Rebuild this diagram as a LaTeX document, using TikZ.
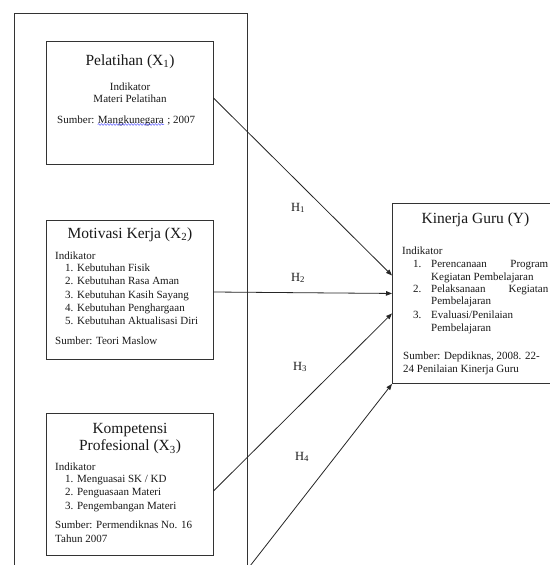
\documentclass[tikz,border=0pt]{standalone}
\usepackage{fontspec}
\setmainfont{Liberation Serif}
\usetikzlibrary{arrows.meta,decorations.pathmorphing}
\begin{document}
\begin{tikzpicture}[x=1pt,y=-1pt,
  boxst/.style={draw=black!80, line width=0.9pt, inner sep=0, fill=none},
  txt/.style={inner sep=0, text height=8pt, text depth=2.5pt, font=\fontsize{11}{13}\selectfont, text=black!90},
  ttl/.style={inner sep=0, font=\fontsize{15.5}{17}\selectfont, text=black!90},
  hl/.style={inner sep=0, font=\fontsize{12.5}{14}\selectfont, text=black!90},
  conn/.style={draw=black!85, line width=0.8pt, -{Triangle[length=6pt,width=4.5pt]}}]
\useasboundingbox (0,0) rectangle (549,565);
\fill[white] (0,0) rectangle (549,565);
% outer frame
\node[boxst, anchor=north west, minimum width=233, minimum height=570] (outer) at (14,13) {};
% boxes
\node[boxst, minimum width=167, minimum height=123] (X1) at (129.5,102.5) {};
\node[boxst, minimum width=167, minimum height=139] (X2) at (129.5,289.5) {};
\node[boxst, minimum width=167, minimum height=142] (X3) at (129.5,484) {};
\node[boxst, anchor=north west, minimum width=170, minimum height=180] (Y) at (392,203) {};
% X1 text
\node[ttl] (x1t) at (130,62) {Pelatihan (X\textsubscript{1})};
\node[txt] (x1a) at (130,88) {Indikator};
\node[txt] (x1b) at (130,100) {Materi Pelatihan};
\node[txt, anchor=base west] (x1c) at (57,123) {Sumber:};
\node[txt, anchor=base west] (x1d) at ([xshift=3pt]x1c.base east) {Mangkunegara};
\node[txt, anchor=base west] (x1e) at ([xshift=3pt]x1d.base east) {; 2007};
\draw[blue!70, line width=0.5pt, decorate, decoration={snake, amplitude=0.8pt, segment length=3pt}] ([yshift=-1.5pt]x1d.base west) -- ([yshift=-1.5pt]x1d.base east);
% X2 text
\node[ttl] (x2t) at (130,235) {Motivasi Kerja (X\textsubscript{2})};
\node[txt, anchor=west] (x2a) at (55,257) {Indikator};
\node[txt, anchor=west] (x2b) at (65,269) {1. Kebutuhan Fisik};
\node[txt, anchor=west] (x2c) at (65,282) {2. Kebutuhan Rasa Aman};
\node[txt, anchor=west] (x2d) at (65,295.5) {3. Kebutuhan Kasih Sayang};
\node[txt, anchor=west] (x2e) at (65,308.5) {4. Kebutuhan Penghargaan};
\node[txt, anchor=west] (x2f) at (65,321.5) {5. Kebutuhan Aktualisasi Diri};
\node[txt, anchor=west] (x2g) at (55,342) {Sumber: Teori Maslow};
% X3 text
\node[ttl] (x3t) at (130,430) {Kompetensi};
\node[ttl] (x3u) at (130,447) {Profesional (X\textsubscript{3})};
\node[txt, anchor=west] (x3a) at (55,468) {Indikator};
\node[txt, anchor=west] (x3b) at (65,480) {1. Menguasai SK / KD};
\node[txt, anchor=west] (x3c) at (65,493) {2. Penguasaan Materi};
\node[txt, anchor=west] (x3d) at (65,507) {3. Pengembangan Materi};
\node[txt, anchor=west] (x3e) at (55,526) {Sumber: Permendiknas No. 16};
\node[txt, anchor=west] (x3f) at (55,540) {Tahun 2007};
% Y text
\node[ttl] (yt) at (475.5,220) {Kinerja Guru (Y)};
\node[txt, anchor=west] (ya) at (402,252) {Indikator};
\node[txt, anchor=west] (yn1) at (413,265) {1.};
\node[txt, anchor=west] (yb) at (431,265) {Perencanaan};
\node[txt, anchor=east] (yb2) at (548.5,265) {Program};
\node[txt, anchor=west] (yc) at (431,277.5) {Kegiatan Pembelajaran};
\node[txt, anchor=west] (yn2) at (413,289.5) {2.};
\node[txt, anchor=west] (yd) at (431,289.5) {Pelaksanaan};
\node[txt, anchor=east] (yd2) at (548.5,289.5) {Kegiatan};
\node[txt, anchor=west] (ye) at (431,302) {Pembelajaran};
\node[txt, anchor=west] (yn3) at (413,316) {3.};
\node[txt, anchor=west] (yf) at (431,316) {Evaluasi/Penilaian};
\node[txt, anchor=west] (yg) at (431,329) {Pembelajaran};
\node[txt, anchor=west] (yh) at (403,357) {Sumber: Depdiknas, 2008. 22-};
\node[txt, anchor=west] (yi) at (403,370) {24 Penilaian Kinerja Guru};
% connectors
\coordinate (x4) at (250,566);
\draw[conn] ([yshift=4.5pt]X1.east) -- ([yshift=18pt]Y.west);
\draw[conn] ([yshift=-2.5pt]X2.east) -- (Y.west);
\draw[conn] ([yshift=-7pt]X3.east) -- ([yshift=-20pt]Y.west);
\draw[conn] (x4) -- (Y.south west);
% labels
\node[hl] (h1) at (298,208) {H\textsubscript{1}};
\node[hl] (h2) at (298,278) {H\textsubscript{2}};
\node[hl] (h3) at (300,367) {H\textsubscript{3}};
\node[hl] (h4) at (302,457) {H\textsubscript{4}};
\end{tikzpicture}
\end{document}
